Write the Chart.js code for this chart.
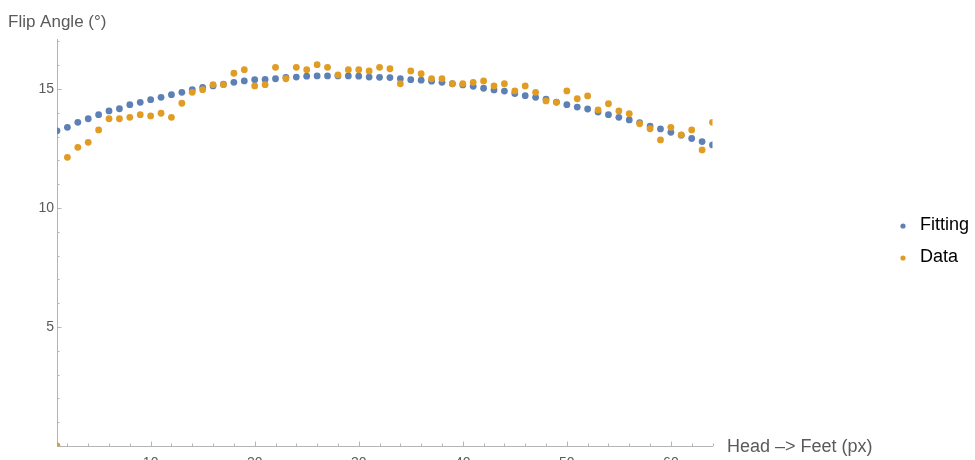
<!DOCTYPE html>
<html>
<head>
<meta charset="utf-8">
<title>Flip Angle</title>
<script src="https://cdn.jsdelivr.net/npm/chart.js@4/dist/chart.umd.min.js"></script>
<style>
  html, body { margin: 0; padding: 0; background: #fff; }
  canvas { display: block; }
</style>
</head>
<body>
<canvas id="plot" width="975" height="460"></canvas>
<script>
// pixel index along the body, 1..64
const positions = Array.from({ length: 64 }, (_, i) => i + 1)

// fitted flip angle (deg)
const fitting = [
  13.24, 13.39, 13.60, 13.75, 13.92, 14.08, 14.17, 14.34, 14.44, 14.55,
  14.65, 14.76, 14.86, 14.97, 15.07, 15.13, 15.20, 15.28, 15.34, 15.39,
  15.40, 15.43, 15.49, 15.50, 15.54, 15.55, 15.55, 15.55, 15.55, 15.54,
  15.50, 15.49, 15.48, 15.43, 15.39, 15.37, 15.33, 15.28, 15.22, 15.17,
  15.11, 15.03, 14.96, 14.91, 14.81, 14.72, 14.65, 14.57, 14.45, 14.34,
  14.24, 14.16, 14.03, 13.92, 13.81, 13.70, 13.59, 13.44, 13.32, 13.18,
  13.06, 12.92, 12.79, 12.65,
]

// measured flip angle (deg)
const measured = [
  0.00, 12.13, 12.55, 12.76, 13.28, 13.75, 13.75, 13.81, 13.92, 13.87,
  13.98, 13.81, 14.40, 14.86, 14.97, 15.18, 15.18, 15.66, 15.81, 15.13,
  15.18, 15.91, 15.43, 15.91, 15.81, 16.02, 15.91, 15.59, 15.81, 15.81,
  15.76, 15.91, 15.85, 15.22, 15.76, 15.64, 15.43, 15.43, 15.22, 15.22,
  15.28, 15.34, 15.13, 15.22, 14.92, 15.13, 14.86, 14.50, 14.44, 14.92,
  14.59, 14.71, 14.12, 14.38, 14.08, 13.96, 13.54, 13.33, 12.86, 13.39,
  13.07, 13.28, 12.44, 13.60,
]

const xMajor = [10, 20, 30, 40, 50, 60]
const yMajor = [5, 10, 15]
const seriesNames = ["Fitting", "Data"]

const BLUE = "#5e81b5"
const ORANGE = "#e19c24"
const AXIS = "#b4b4b4"
const LABEL = "#5a5a5a"
const FONT = "'Liberation Sans', Arial, sans-serif"

function toPoints(ys) {
  return ys.map((y, i) => ({ x: positions[i], y: y }))
}

// Mathematica-style ticks: short marks pointing into the frame
const insideTicks = {
  id: "insideTicks",
  afterDatasetsDraw(chart) {
    const { ctx, chartArea, scales } = chart
    const xs = scales.x,
      ys = scales.y
    ctx.save()
    ctx.strokeStyle = AXIS
    ctx.lineWidth = 1
    ctx.beginPath()
    for (let v = 2; v <= 64; v += 2) {
      const px = Math.round(xs.getPixelForValue(v)) + 0.5
      const len = v % 10 === 0 ? 4.5 : 2.5
      ctx.moveTo(px, chartArea.bottom)
      ctx.lineTo(px, chartArea.bottom - len)
    }
    for (let v = 1; v <= 17; v++) {
      const py = Math.round(ys.getPixelForValue(v)) + 0.5
      const len = v % 5 === 0 ? 4.5 : 2.5
      ctx.moveTo(chartArea.left, py)
      ctx.lineTo(chartArea.left + len, py)
    }
    ctx.stroke()
    ctx.restore()
  },
}

// axis titles and the point legend on the right
const annotations = {
  id: "annotations",
  afterDraw(chart) {
    const ctx = chart.ctx
    ctx.save()
    ctx.textBaseline = "middle"
    ctx.textAlign = "left"
    ctx.fillStyle = LABEL
    ctx.font = "17px " + FONT
    ctx.fillText("Flip Angle (°)", 8, 22)
    ctx.font = "18px " + FONT
    ctx.fillText("Head –> Feet (px)", 727, 447)

    const colors = [BLUE, ORANGE]
    const rows = [226, 258]
    ctx.font = "18px " + FONT
    seriesNames.forEach((name, i) => {
      ctx.fillStyle = colors[i]
      ctx.beginPath()
      ctx.arc(903, rows[i], 2.6, 0, Math.PI * 2)
      ctx.fill()
      ctx.fillStyle = "#000"
      ctx.fillText(name, 920, rows[i] - 1)
    })
    ctx.restore()
  },
}

const ctx = document.getElementById("plot").getContext("2d")

new Chart(ctx, {
  type: "scatter",
  data: {
    datasets: [
      {
        label: seriesNames[0],
        data: toPoints(fitting),
        backgroundColor: BLUE,
        borderWidth: 0,
        pointRadius: 3.4,
        order: 1,
        clip: 0,
      },
      {
        label: seriesNames[1],
        data: toPoints(measured),
        backgroundColor: ORANGE,
        borderWidth: 0,
        pointRadius: 3.4,
        order: 0,
        clip: 0,
      },
    ],
  },
  options: {
    responsive: false,
    animation: false,
    devicePixelRatio: 1,
    layout: { padding: { left: 0, right: 262.5, top: 39, bottom: 0 } },
    plugins: {
      legend: { display: false },
      tooltip: { enabled: false },
    },
    scales: {
      x: {
        type: "linear",
        position: "bottom",
        min: 1,
        max: 64,
        afterFit: (s) => { s.height = 14 },
        afterBuildTicks: (s) => { s.ticks = xMajor.map((v) => ({ value: v })) },
        grid: { display: true, drawOnChartArea: false, drawTicks: false, color: "transparent" },
        border: { display: true, color: AXIS, width: 1 },
        ticks: {
          autoSkip: false,
          maxRotation: 0,
          padding: 9,
          color: LABEL,
          font: { family: FONT, size: 14 },
        },
      },
      y: {
        type: "linear",
        position: "left",
        min: 0,
        max: 17.1,
        afterFit: (s) => { s.width = 57 },
        afterBuildTicks: (s) => { s.ticks = yMajor.map((v) => ({ value: v })) },
        grid: { display: true, drawOnChartArea: false, drawTicks: false, color: "transparent" },
        border: { display: true, color: AXIS, width: 1 },
        ticks: {
          padding: 3,
          color: LABEL,
          font: { family: FONT, size: 14 },
        },
      },
    },
  },
  plugins: [insideTicks, annotations],
})
</script>
</body>
</html>
